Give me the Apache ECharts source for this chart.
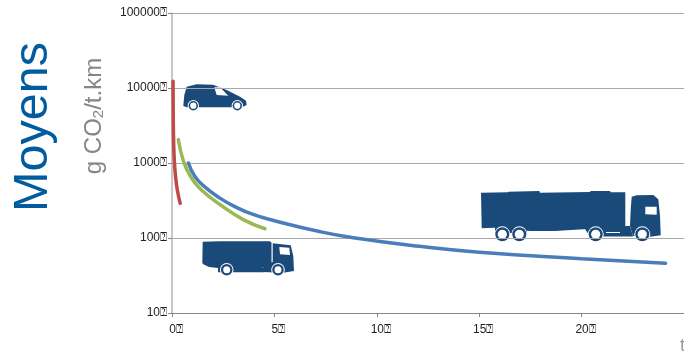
<!DOCTYPE html>
<html>
<head>
<meta charset="utf-8">
<style>html,body{margin:0;padding:0;background:#fff}#main{width:684px;height:352px}</style>
<script src="https://cdn.jsdelivr.net/npm/echarts@6/dist/echarts.min.js"></script>
</head>
<body>
<div id="main"></div>
<script>
// valeurs
const yTicks = [10, 100, 1000, 10000, 100000]
const xTicks = [0, 5, 10, 15, 20]
const tofu = '\u2370' // le reference affiche un caractere manquant apres chaque nombre
const redLine = [[0.05, 12300], [0.06, 4500], [0.08, 1900], [0.12, 1000], [0.18, 640], [0.26, 437], [0.4, 290]]
const greenLine = [[0.31, 2050], [0.55, 1080], [0.91, 660], [1.5, 422], [2.34, 280], [3.48, 176], [4.54, 133]]
const blueLine = [[0.8, 1000], [1.12, 660], [1.6, 480], [2.34, 340], [3, 268], [3.96, 206], [5, 170], [7.2, 122], [8.85, 101], [12.1, 77.5], [15, 64.5], [20, 52.8], [24.1, 46]]

const myChart = echarts.init(document.getElementById('main'))
const font = 'Liberation Sans'
const navy = '#1a4a7a'

function wheel(cx, cy, r, inner) {
  return [
    { type: 'circle', shape: { cx, cy, r: r + 1 }, style: { fill: '#fff' } },
    { type: 'circle', shape: { cx, cy, r }, style: { fill: navy } },
    { type: 'circle', shape: { cx, cy, r: inner }, style: { fill: '#fff' } }
  ]
}
function body(points) {
  return { type: 'polygon', shape: { points }, style: { fill: navy } }
}
function glass(points) {
  return { type: 'polygon', shape: { points }, style: { fill: '#fff' } }
}

myChart.setOption({
  animation: false,
  backgroundColor: '#fff',
  grid: { left: 172, right: 0, top: 13, bottom: 39 },
  xAxis: {
    type: 'value', min: 0, max: 25, interval: 5,
    axisLine: { onZero: false, lineStyle: { color: '#868686', width: 1 } },
    axisTick: { show: true, length: 4, lineStyle: { color: '#868686' } },
    splitLine: { show: false },
    axisLabel: {
      color: '#222', fontFamily: font, fontSize: 12, margin: 11,
      padding: [0, 0, 0, 8],
      showMaxLabel: false,
      formatter: v => (xTicks.includes(v) ? v + tofu : '')
    }
  },
  yAxis: {
    type: 'log', min: 10, max: 100000, logBase: 10,
    axisLine: { show: true, onZero: false, lineStyle: { color: '#b4b4b4', width: 1.5 } },
    axisTick: { show: true, length: 4, lineStyle: { color: '#868686' } },
    minorTick: { show: false },
    splitLine: { show: true, lineStyle: { color: '#a8a8a8', width: 1 } },
    axisLabel: {
      color: '#222', fontFamily: font, fontSize: 12, margin: 5,
      padding: [4, 0, 0, 0],
      formatter: v => (yTicks.includes(v) ? v + tofu : '')
    }
  },
  series: [
    { type: 'line', data: blueLine, smooth: 0.5, showSymbol: false, lineStyle: { color: '#4a7ebb', width: 3.5, cap: 'round' } },
    { type: 'line', data: greenLine, smooth: 0.5, showSymbol: false, lineStyle: { color: '#98b954', width: 3.5, cap: 'round' } },
    { type: 'line', data: redLine, smooth: 0.5, showSymbol: false, lineStyle: { color: '#be4b48', width: 3.5, cap: 'round' } }
  ],
  graphic: [
    // titre vertical
    {
      type: 'text', x: 34, y: 127, rotation: Math.PI / 2, silent: true,
      style: { text: 'Moyens', fill: '#005c9f', font: '48.5px "Liberation Sans"', align: 'center', verticalAlign: 'middle' }
    },
    {
      type: 'text', x: 94, y: 116, rotation: Math.PI / 2, silent: true,
      style: {
        rich: { a: { fill: '#868686', font: '24px "Liberation Sans"' }, s: { fill: '#868686', font: '15px "Liberation Sans"', padding: [10, 0, 0, 0] } },
        text: '{a|g CO}{s|2}{a|/t.km}', align: 'center', verticalAlign: 'middle'
      }
    },
    { type: 'text', x: 680, y: 337, silent: true, style: { text: 't', fill: '#999', font: '18px "Liberation Sans"' } },
    // utilitaire
    {
      type: 'group',
      children: [
        body([[184.3, 95], [186.7, 86.7], [196.7, 84.3], [213, 84.7], [226.7, 90], [240, 96.7], [246, 100.7], [246.7, 105], [241.7, 107.3], [186.7, 107.3], [183.3, 106]]),
        glass([[214.3, 87.3], [220, 87.3], [228.3, 95.7], [216.7, 95]]),
        ...wheel(193.3, 105.7, 4.7, 3.1), ...wheel(237.3, 105.7, 4.7, 3.1)
      ]
    },
    // camion moyen
    {
      type: 'group',
      children: [
        body([[202.7, 241.7], [220, 241.3], [270, 241.3], [271.5, 242.7], [271.5, 264], [262, 268], [218, 268], [209, 267], [203.3, 264.3], [202.3, 263]]),
        body([[218, 268], [264, 268], [264, 272.3], [218, 272.3]]),
        body([[272.7, 243.3], [290.7, 245.3], [293.3, 256], [294, 271], [283.3, 272.7], [262, 272], [264, 265], [272.7, 262]]),
        glass([[279.3, 247], [289.3, 247.7], [290, 255], [280, 254.3]]),
        ...wheel(226.7, 269.7, 5.8, 3.5), ...wheel(278, 269.7, 5.8, 3.5)
      ]
    },
    // camion citerne
    {
      type: 'group',
      children: [
        body([[481, 192.7], [508.3, 192.3], [508.3, 191.7], [539.3, 191], [540, 192.7], [590, 192], [590.7, 191], [610, 191], [610.7, 192.3], [625.3, 192.3], [625.3, 227.7], [583.3, 229.3], [555, 231], [530, 231], [495, 227.7], [481.7, 228.3]]),
        body([[495, 227], [527, 227], [527, 233], [495, 233]]),
        body([[583, 226], [630, 226], [633, 236.5], [590, 236.5]]),
        body([[630.7, 209.3], [631.7, 196.7], [636.7, 195.3], [653.3, 195], [658.3, 199.3], [660, 216], [660.7, 235.3], [650, 236.7], [633, 236], [630, 226]]),
        glass([[645.3, 206.7], [656.7, 206.7], [656.7, 214.7], [645.3, 214.3]]),
        glass([[606, 232], [620, 232], [620, 233], [606, 233]]),
        ...wheel(502.3, 234.3, 7, 4.6), ...wheel(519.3, 234.3, 7, 4.6), ...wheel(595.7, 234.3, 7, 4.6), ...wheel(642.3, 234.3, 7, 4.6)
      ]
    }
  ]
})
</script>
</body>
</html>
